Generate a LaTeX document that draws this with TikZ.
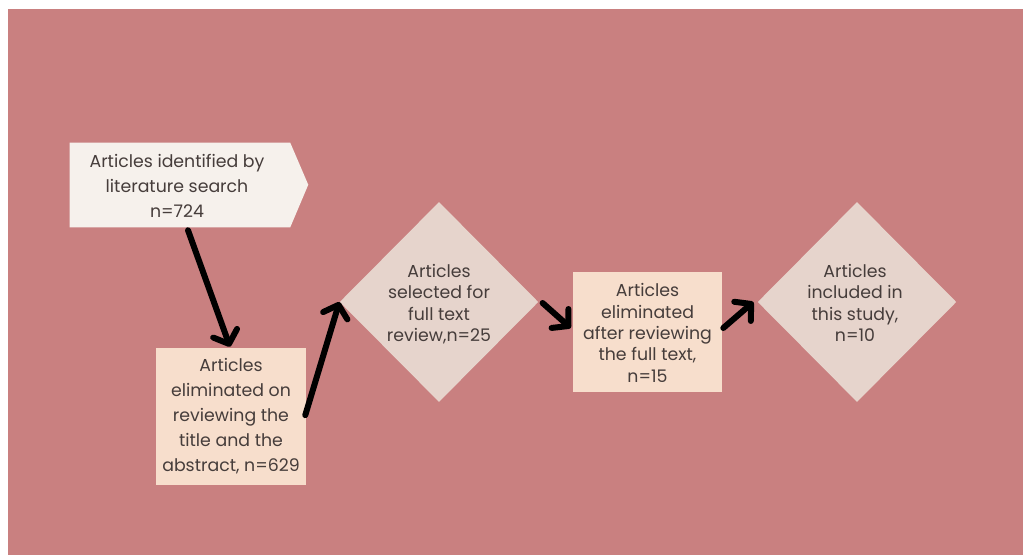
\documentclass[tikz,border=0pt]{standalone}
\usepackage{fontspec}
\setmainfont{Poppins}
\usetikzlibrary{shapes.geometric,arrows.meta}
\definecolor{bgpink}{HTML}{C98080}
\definecolor{pentfill}{HTML}{F6F1EC}
\definecolor{boxfill}{HTML}{F7DECC}
\definecolor{diafill}{HTML}{E6D4CC}
\definecolor{txtcol}{HTML}{463D3B}
\tikzset{
  txtwide/.style={align=center,text=txtcol,font=\fontsize{13pt}{18.75pt}\selectfont,inner sep=0pt},
  txtnarrow/.style={align=center,text=txtcol,font=\fontsize{13pt}{16pt}\selectfont,inner sep=0pt},
  pentbox/.style={rectangle,inner sep=0pt,minimum width=165pt,minimum height=63pt},
  peachbox/.style={rectangle,fill=boxfill,inner sep=0pt},
  diabox/.style={diamond,fill=diafill,inner sep=0pt,minimum width=149pt,minimum height=150pt},
  arr/.style={line width=4.5pt,line cap=round,-{Straight Barb[length=8.5pt,width=19pt,round]}}
}
\begin{document}
\begin{tikzpicture}[x=0.75pt,y=-0.75pt]
\useasboundingbox (0,0) rectangle (1023,555);
\fill[white] (0,0) rectangle (1023,555);
\fill[bgpink] (8,9) rectangle (1030,565);

% pentagon (arrow-shaped box)
\node[pentbox] (a) at (180,185) {};
\fill[pentfill] (a.north west) -- (a.north east) -- ++(18,42) -- (a.south east) -- (a.south west) -- cycle;
\node[txtwide] (at) at (177,186) {Articles identified by\\literature search\\n=724};

% box 2
\node[peachbox,minimum width=112.5pt,minimum height=102.75pt] (b) at (231,416.5) {};
\node[txtwide] (bt) at (231,416.5) {Articles\\eliminated on\\reviewing the\\title and the\\abstract, n=629};

% diamond 1
\node[diabox] (d1) at (439,302) {};
\node[txtnarrow] (d1t) at (439,304) {Articles\\selected for\\full text\\review,n=25};

% box 3
\node[peachbox,minimum width=111.75pt,minimum height=90pt] (c) at (647.5,332) {};
\node[txtnarrow] (ct) at (647.5,333) {Articles\\eliminated\\after reviewing\\the full text,\\n=15};

% diamond 2
\node[diabox] (d2) at (857,302) {};
\node[txtnarrow] (d2t) at (855,303) {Articles\\included in\\this study,\\n=10};

% arrows
\draw[arr] ([xshift=6pt,yshift=-2.25pt]a.south) -- ([xshift=-0.75pt,yshift=0.75pt]b.north);
\draw[arr] ([xshift=-0.75pt,yshift=1pt]b.east) -- (d1.west);
\draw[arr] ([xshift=3pt,yshift=-0.75pt]d1.east) -- ([xshift=-1.5pt,yshift=3pt]c.west);
\draw[arr] ([xshift=0.75pt,yshift=3pt]c.east) -- ([xshift=-3pt]d2.west);
\end{tikzpicture}
\end{document}
